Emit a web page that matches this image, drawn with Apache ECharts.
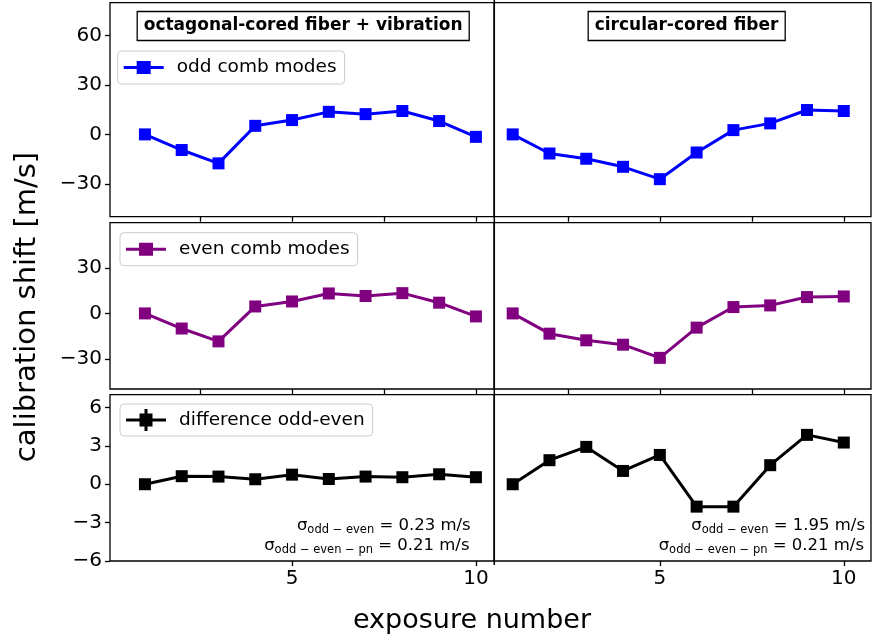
<!DOCTYPE html>
<html>
<head>
<meta charset="utf-8">
<script src="https://cdn.jsdelivr.net/npm/echarts@6/dist/echarts.min.js"></script>
<style>
html,body{margin:0;padding:0;background:#fff;}
#chart{width:872px;height:640px;}
</style>
</head>
<body>
<div id="chart"></div>
<script>
// ---- data ----
const exposures = [1, 2, 3, 4, 5, 6, 7, 8, 9, 10];
const oddOctagonal = [0, -9.5, -17.6, 5.2, 8.7, 13.7, 12.3, 14.2, 8.1, -1.5];
const oddCircular = [0, -11.6, -14.8, -19.7, -27.2, -11.0, 2.6, 6.7, 14.8, 14.2];
const evenOctagonal = [0, -10.0, -18.5, 4.6, 7.9, 13.2, 11.5, 13.4, 7.1, -2.0];
const evenCircular = [0, -13.4, -17.8, -20.7, -29.4, -9.4, 4.2, 5.3, 10.8, 11.2];
const diffOctagonal = [0, 0.63, 0.6, 0.39, 0.75, 0.41, 0.6, 0.55, 0.78, 0.55];
const diffCircular = [0, 1.88, 2.92, 1.04, 2.29, -1.75, -1.75, 1.49, 3.86, 3.26];
const xTicksMinor = [2.5, 5, 7.5, 10];
const xTicksLabeled = [5, 10];
const yTicksOdd = [-30, 0, 30, 60];
const yTicksEven = [-30, 0, 30];
const yTicksDiff = [-6, -3, 0, 3, 6];
const panelTitles = ['octagonal-cored fiber + vibration', 'circular-cored fiber'];
const seriesNames = ['odd comb modes', 'even comb modes', 'difference odd-even'];
const sigmaLeft = ['0.23', '0.21'];
const sigmaRight = ['1.95', '0.21'];

const FONT = 'DejaVu Sans';
const chart = echarts.init(document.getElementById('chart'), null, {renderer: 'canvas'});

const rows = [
  {top: 2.7, height: 214, min: -50, max: 80, yt: yTicksOdd},
  {top: 222.7, height: 166.3, min: -50, max: 60, yt: yTicksEven},
  {top: 394.7, height: 166.3, min: -6, max: 7, yt: yTicksDiff}
];
const cols = [
  {left: 110, width: 384.3, min: 0.05, max: 10.5},
  {left: 494.3, width: 376.7, min: 0.5, max: 10.74}
];
const minus = v => String(v).replace('-', '\u2212');

const grids = [], xAxes = [], yAxes = [];
rows.forEach((r, ri) => {
  cols.forEach((c, ci) => {
    grids.push({left: c.left, top: r.top, width: c.width, height: r.height,
      show: true, borderColor: '#000', borderWidth: 1.3, backgroundColor: 'transparent'});
    const last = ri === 2;
    xAxes.push({
      type: 'value', gridIndex: grids.length - 1, min: c.min, max: c.max,
      axisLine: {show: false, onZero: false},
      axisTick: {show: true, inside: false, length: 5, customValues: last ? xTicksLabeled : xTicksMinor,
        lineStyle: {color: '#000', width: 1.3}},
      axisLabel: {show: last, customValues: xTicksLabeled, fontSize: 20, fontFamily: FONT, color: '#000', margin: 8},
      splitLine: {show: false}
    });
    yAxes.push({
      type: 'value', gridIndex: grids.length - 1, min: r.min, max: r.max,
      axisLine: {show: false, onZero: false},
      axisTick: {show: ci === 0, inside: false, length: 5, customValues: r.yt,
        lineStyle: {color: '#000', width: 1.3}},
      axisLabel: {show: ci === 0, customValues: r.yt, fontSize: 20, fontFamily: FONT, color: '#000', margin: 8,
        formatter: minus},
      splitLine: {show: false}
    });
  });
});

const rowData = [[oddOctagonal, oddCircular], [evenOctagonal, evenCircular], [diffOctagonal, diffCircular]];
const colors = ['#0000ff', '#800080', '#000000'];
const series = [];
rowData.forEach((pair, ri) => {
  pair.forEach((vals, ci) => {
    const idx = ri * 2 + ci;
    series.push({
      type: 'line', name: seriesNames[ri], xAxisIndex: idx, yAxisIndex: idx,
      data: exposures.map((x, i) => [x, vals[i]]),
      symbol: 'rect', symbolSize: 12, showSymbol: true,
      lineStyle: {color: colors[ri], width: 3},
      itemStyle: {color: colors[ri]},
      color: colors[ri],
      animation: false, clip: false
    });
  });
});

const lineIcon = 'path://M0,5L40,5L40,8L0,8Z M13,0L27,0L27,13L13,13Z';
const errIcon = 'path://M0,9.5L40,9.5L40,12.5L0,12.5Z M13.5,4.5L26.5,4.5L26.5,17.5L13.5,17.5Z M18.5,0L21.5,0L21.5,22L18.5,22Z';
function mkLegend(name, left, top, icon, ih, pad) {
  return {
    data: [name], left: left, top: top, icon: icon, itemWidth: 40, itemHeight: ih,
    padding: pad, borderColor: '#cccccc', borderWidth: 1, borderRadius: 4,
    backgroundColor: 'rgba(255,255,255,0.8)', selectedMode: false,
    textStyle: {fontSize: 18.5, fontFamily: FONT, color: '#000', lineHeight: 19, padding: [0, 0, 0, 8]}
  };
}
const legends = [
  mkLegend(seriesNames[0], 117.7, 51, lineIcon, 13, [7, 8, 7, 6]),
  mkLegend(seriesNames[1], 120, 232.7, lineIcon, 13, [7, 8, 7, 6]),
  mkLegend(seriesNames[2], 120, 404, errIcon, 22, [5, 8, 5, 6])
];

const titles = [
  {text: panelTitles[0], left: 136.7, top: 11},
  {text: panelTitles[1], left: 587.7, top: 11}
].map(t => Object.assign(t, {
  padding: [6, 7, 6, 7], borderColor: '#000', borderWidth: 1.3, backgroundColor: '#fff',
  textStyle: {fontSize: 17, fontWeight: 'bold', fontFamily: FONT, color: '#000', lineHeight: 18}
}));

const rich = {
  s: {fontSize: 16.5, fontFamily: FONT, lineHeight: 20, fill: '#000'},
  sub: {fontSize: 11.5, fontFamily: FONT, lineHeight: 12, padding: [8, 0, 0, 0], fill: '#000'}
};
function sigmaText(x, y, subtxt, val) {
  return {type: 'text', x: x, y: y, silent: true,
    style: {text: '{s|\u03c3}{sub|' + subtxt + '}{s| = ' + val + ' m/s}', rich: rich,
      align: 'right', verticalAlign: 'middle', fill: '#000', font: '16.5px "DejaVu Sans"'}};
}

chart.setOption({
  animation: false,
  backgroundColor: '#fff',
  title: titles,
  legend: legends,
  grid: grids,
  xAxis: xAxes,
  yAxis: yAxes,
  series: series
});

const divX = chart.convertToPixel({xAxisIndex: 0}, 10.5);
chart.setOption({
  graphic: [
    {type: 'line', shape: {x1: divX, y1: 0, x2: divX, y2: 565}, style: {stroke: '#000', lineWidth: 1.5}, z: 100},
    sigmaText(470.7, 526, 'odd \u2212 even', sigmaLeft[0]),
    sigmaText(469.5, 546, 'odd \u2212 even \u2212 pn', sigmaLeft[1]),
    sigmaText(865, 526, 'odd \u2212 even', sigmaRight[0]),
    sigmaText(864, 546, 'odd \u2212 even \u2212 pn', sigmaRight[1]),
    {type: 'text', x: 27, y: 307, rotation: Math.PI / 2, silent: true,
      style: {text: 'calibration shift [m/s]', fontSize: 29, fontFamily: FONT, fill: '#000', align: 'center', verticalAlign: 'middle'}},
    {type: 'text', x: 472, y: 621, silent: true,
      style: {text: 'exposure number', fontSize: 27, fontFamily: FONT, fill: '#000', align: 'center', verticalAlign: 'middle'}}
  ]
});
</script>
</body>
</html>
